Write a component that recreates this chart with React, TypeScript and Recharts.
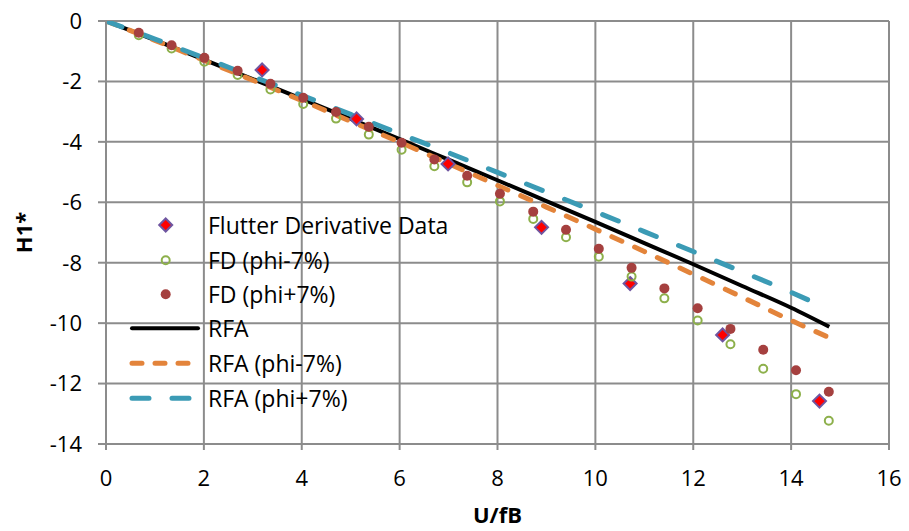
import { ComposedChart, Line, Scatter, XAxis, YAxis, CartesianGrid, Legend } from "recharts";

// FD scatter abscissae (shared by the two perturbed FD series)
const fdX = [0.67, 1.34, 2.01, 2.69, 3.36, 4.03, 4.7, 5.37, 6.04, 6.71, 7.38, 8.05, 8.73, 9.4, 10.07, 10.74, 11.41, 12.09, 12.76, 13.43, 14.1, 14.77];
const fdMinusY = [-0.47, -0.91, -1.35, -1.79, -2.27, -2.75, -3.23, -3.76, -4.26, -4.81, -5.34, -5.97, -6.55, -7.16, -7.8, -8.46, -9.18, -9.91, -10.7, -11.51, -12.35, -13.23];
const fdPlusY = [-0.39, -0.8, -1.22, -1.65, -2.08, -2.54, -3.01, -3.5, -4.03, -4.58, -5.12, -5.72, -6.31, -6.91, -7.54, -8.17, -8.85, -9.51, -10.19, -10.88, -11.56, -12.27];

const flutterX = [3.19, 5.12, 6.99, 8.9, 10.71, 12.6, 14.58];
const flutterY = [-1.62, -3.24, -4.73, -6.83, -8.69, -10.39, -12.58];

// RFA curves
const rfaX = [0, 1, 2, 3, 4, 5, 6, 7, 8, 9, 10, 11, 12, 13, 14, 14.78];
const rfaY = [0, -0.63, -1.28, -1.92, -2.58, -3.24, -3.91, -4.59, -5.27, -5.96, -6.65, -7.35, -8.05, -8.77, -9.49, -10.12];
const rfaMinusY = [0, -0.64, -1.3, -1.96, -2.63, -3.32, -4.01, -4.72, -5.44, -6.16, -6.89, -7.63, -8.38, -9.14, -9.91, -10.48];
const rfaPlusY = [0, -0.6, -1.22, -1.84, -2.46, -3.09, -3.73, -4.36, -5.01, -5.66, -6.31, -6.97, -7.63, -8.3, -8.98, -9.55];

const xTicks = [0, 2, 4, 6, 8, 10, 12, 14, 16];
const yTicks = [0, -2, -4, -6, -8, -10, -12, -14];

const toPoints = (xs: number[], ys: number[]) => xs.map((x, i) => ({ x, y: ys[i] }));

const FONT = "'Open Sans', sans-serif";
const GRID = "#8c8c8c";
const ORANGE = "#e3843b";
const CYAN = "#3b9bb5";
const GREEN = "#8db04b";
const BROWN = "#a5403f";
const PURPLE = "#6f55a0";

const Diamond = (props: any) => {
  const { cx, cy } = props;
  if (cx == null || cy == null) return null;
  const s = 6.5;
  return (
    <polygon
      points={`${cx},${cy - s} ${cx + s},${cy} ${cx},${cy + s} ${cx - s},${cy}`}
      fill="#ff0000"
      stroke={PURPLE}
      strokeWidth={2}
    />
  );
};

const OpenDot = (props: any) => {
  const { cx, cy } = props;
  if (cx == null || cy == null) return null;
  return <circle cx={cx} cy={cy} r={4} fill="none" stroke={GREEN} strokeWidth={2} />;
};

const FilledDot = (props: any) => {
  const { cx, cy } = props;
  if (cx == null || cy == null) return null;
  return <circle cx={cx} cy={cy} r={5} fill={BROWN} />;
};

function LegendBox() {
  const textProps = { x: 88, fontSize: 23, fontFamily: FONT, fill: "#000", dominantBaseline: "central" as const };
  return (
    <svg width={400} height={210} style={{ overflow: "visible" }}>
      <Diamond cx={45.7} cy={20} />
      <text {...textProps} y={20}>Flutter Derivative Data</text>
      <OpenDot cx={45.7} cy={55.3} />
      <text {...textProps} y={55.3}>FD (phi-7%)</text>
      <FilledDot cx={45.7} cy={89.3} />
      <text {...textProps} y={89.3}>FD (phi+7%)</text>
      <line x1={12} y1={123.3} x2={78} y2={123.3} stroke="#000" strokeWidth={4} strokeLinecap="round" />
      <text {...textProps} y={123.3}>RFA</text>
      <line x1={12} y1={158.3} x2={72} y2={158.3} stroke={ORANGE} strokeWidth={5} strokeDasharray="10 13" strokeLinecap="round" />
      <text {...textProps} y={158.3}>RFA (phi-7%)</text>
      <line x1={12} y1={193.3} x2={72} y2={193.3} stroke={CYAN} strokeWidth={5} strokeDasharray="17 23" strokeLinecap="round" />
      <text {...textProps} y={193.3}>RFA (phi+7%)</text>
    </svg>
  );
}

const YTitle = (props: any) => {
  const vb = props.viewBox || {};
  const x = (vb.x ?? 0) + 23;
  const y = (vb.y ?? 0) + (vb.height ?? 0) / 2;
  return (
    <text
      x={x}
      y={y}
      transform={`rotate(-90 ${x} ${y})`}
      textAnchor="middle"
      dominantBaseline="central"
      fontSize={22}
      fontWeight="bold"
      fontFamily={FONT}
      fill="#000"
    >
      H1*
    </text>
  );
};

export default function App() {
  return (
    <div style={{ position: "fixed", left: 0, top: 0, width: 909, height: 531, background: "#fff" }}>
      <ComposedChart width={909} height={531} margin={{ top: 21, right: 20, bottom: 0, left: 0 }}>
        <CartesianGrid stroke={GRID} strokeWidth={2} />
        <XAxis
          dataKey="x"
          type="number"
          domain={[0, 16]}
          ticks={xTicks}
          interval={0}
          allowDataOverflow
          height={87}
          tickSize={6}
          tickMargin={20}
          axisLine={{ stroke: GRID, strokeWidth: 2 }}
          tickLine={{ stroke: GRID, strokeWidth: 2 }}
          tick={{ fill: "#000", fontSize: 22, fontFamily: FONT }}
          label={{ value: "U/fB", position: "insideBottom", offset: 8, fill: "#000", fontSize: 22, fontWeight: "bold", fontFamily: FONT }}
        />
        <YAxis
          type="number"
          domain={[-14, 0]}
          ticks={yTicks}
          interval={0}
          allowDataOverflow
          width={106}
          tickSize={8}
          tickMargin={16}
          axisLine={{ stroke: GRID, strokeWidth: 2 }}
          tickLine={{ stroke: GRID, strokeWidth: 2 }}
          tick={{ fill: "#000", fontSize: 22, fontFamily: FONT }}
          label={{ content: YTitle }}
        />
        <Line data={toPoints(rfaX, rfaY)} dataKey="y" type="monotone" dot={false} stroke="#000" strokeWidth={4} isAnimationActive={false} />
        <Line data={toPoints(rfaX, rfaMinusY)} dataKey="y" type="monotone" dot={false} stroke={ORANGE} strokeWidth={5} strokeDasharray="11 14" strokeLinecap="round" isAnimationActive={false} />
        <Line data={toPoints(rfaX, rfaPlusY)} dataKey="y" type="monotone" dot={false} stroke={CYAN} strokeWidth={5} strokeDasharray="17 24" strokeLinecap="round" isAnimationActive={false} />
        <Scatter data={toPoints(flutterX, flutterY)} dataKey="y" shape={Diamond} isAnimationActive={false} />
        <Scatter data={toPoints(fdX, fdMinusY)} dataKey="y" shape={OpenDot} isAnimationActive={false} />
        <Scatter data={toPoints(fdX, fdPlusY)} dataKey="y" shape={FilledDot} isAnimationActive={false} />
        <Legend
          layout="vertical"
          align="center"
          verticalAlign="middle"
          wrapperStyle={{ left: 120, top: 205, width: 400, height: 210 }}
          content={() => <LegendBox />}
        />
      </ComposedChart>
    </div>
  );
}
